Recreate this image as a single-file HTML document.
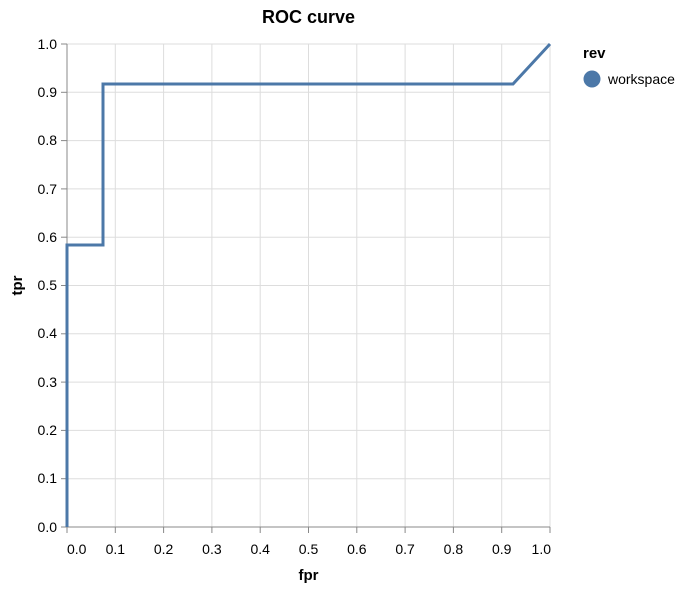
<!DOCTYPE html>
<html><head><style>body{margin:0;background:#fff}svg{font-family:"Liberation Sans",Arial,sans-serif}</style></head><body>
<svg width="700" height="592" xmlns="http://www.w3.org/2000/svg">
<g stroke="#ddd" stroke-width="1">
<line x1="67" y1="44" x2="67" y2="527"/><line x1="115.3" y1="44" x2="115.3" y2="527"/><line x1="163.6" y1="44" x2="163.6" y2="527"/><line x1="211.9" y1="44" x2="211.9" y2="527"/><line x1="260.2" y1="44" x2="260.2" y2="527"/><line x1="308.5" y1="44" x2="308.5" y2="527"/><line x1="356.8" y1="44" x2="356.8" y2="527"/><line x1="405.1" y1="44" x2="405.1" y2="527"/><line x1="453.4" y1="44" x2="453.4" y2="527"/><line x1="501.7" y1="44" x2="501.7" y2="527"/><line x1="550" y1="44" x2="550" y2="527"/>
<line x1="67" y1="44" x2="550" y2="44"/><line x1="67" y1="92.3" x2="550" y2="92.3"/><line x1="67" y1="140.6" x2="550" y2="140.6"/><line x1="67" y1="188.9" x2="550" y2="188.9"/><line x1="67" y1="237.2" x2="550" y2="237.2"/><line x1="67" y1="285.5" x2="550" y2="285.5"/><line x1="67" y1="333.8" x2="550" y2="333.8"/><line x1="67" y1="382.1" x2="550" y2="382.1"/><line x1="67" y1="430.4" x2="550" y2="430.4"/><line x1="67" y1="478.7" x2="550" y2="478.7"/>
</g>
<g stroke="#888" stroke-width="1">
<line x1="67" y1="44" x2="67" y2="527"/><line x1="67" y1="527" x2="550" y2="527"/>
<line x1="61" y1="44" x2="67" y2="44"/><line x1="61" y1="92.3" x2="67" y2="92.3"/><line x1="61" y1="140.6" x2="67" y2="140.6"/><line x1="61" y1="188.9" x2="67" y2="188.9"/><line x1="61" y1="237.2" x2="67" y2="237.2"/><line x1="61" y1="285.5" x2="67" y2="285.5"/><line x1="61" y1="333.8" x2="67" y2="333.8"/><line x1="61" y1="382.1" x2="67" y2="382.1"/><line x1="61" y1="430.4" x2="67" y2="430.4"/><line x1="61" y1="478.7" x2="67" y2="478.7"/><line x1="61" y1="527" x2="67" y2="527"/>
<line x1="67" y1="527" x2="67" y2="533"/><line x1="115.3" y1="527" x2="115.3" y2="533"/><line x1="163.6" y1="527" x2="163.6" y2="533"/><line x1="211.9" y1="527" x2="211.9" y2="533"/><line x1="260.2" y1="527" x2="260.2" y2="533"/><line x1="308.5" y1="527" x2="308.5" y2="533"/><line x1="356.8" y1="527" x2="356.8" y2="533"/><line x1="405.1" y1="527" x2="405.1" y2="533"/><line x1="453.4" y1="527" x2="453.4" y2="533"/><line x1="501.7" y1="527" x2="501.7" y2="533"/><line x1="550" y1="527" x2="550" y2="533"/>
</g>
<g font-size="14" fill="#000" text-anchor="end">
<text x="57" y="49">1.0</text><text x="57" y="97">0.9</text><text x="57" y="145">0.8</text><text x="57" y="194">0.7</text><text x="57" y="242">0.6</text><text x="57" y="290">0.5</text><text x="57" y="338">0.4</text><text x="57" y="387">0.3</text><text x="57" y="435">0.2</text><text x="57" y="483">0.1</text><text x="57" y="532">0.0</text>
</g>
<g font-size="14" fill="#000" text-anchor="middle">
<text x="67" y="554" text-anchor="start">0.0</text><text x="115.3" y="554">0.1</text><text x="163.6" y="554">0.2</text><text x="211.9" y="554">0.3</text><text x="260.2" y="554">0.4</text><text x="308.5" y="554">0.5</text><text x="356.8" y="554">0.6</text><text x="405.1" y="554">0.7</text><text x="453.4" y="554">0.8</text><text x="501.7" y="554">0.9</text><text x="551" y="554" text-anchor="end">1.0</text>
</g>
<text x="308.5" y="580" font-size="15" font-weight="bold" text-anchor="middle">fpr</text>
<text transform="translate(22,285.5) rotate(-90)" font-size="15" font-weight="bold" text-anchor="middle">tpr</text>
<text x="308.5" y="23" font-size="18" font-weight="bold" text-anchor="middle">ROC curve</text>
<polyline fill="none" stroke="#4c78a8" stroke-width="3" points="67,527 67,245 103,245 103,84 513,84 550,44"/>
<text x="583" y="58" font-size="15" font-weight="bold">rev</text>
<circle cx="592" cy="79" r="8.5" fill="#4c78a8"/>
<text x="608" y="84" font-size="14">workspace</text>
</svg>
</body></html>
